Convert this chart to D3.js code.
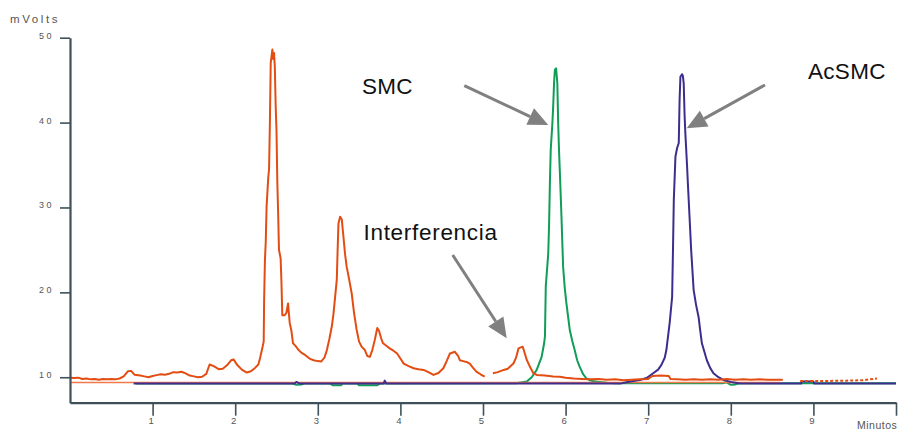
<!DOCTYPE html>
<html><head><meta charset="utf-8">
<script src="https://cdn.jsdelivr.net/npm/d3@7"></script>
<style>
html,body{margin:0;padding:0;background:#fff;}
svg{display:block;font-family:"Liberation Sans",Arial,sans-serif;}
</style></head>
<body>
<svg id="c" width="903" height="430"></svg>
<script>
// ---- data (minutes, mVolts) ----
const xTicks = [1,2,3,4,5,6,7,8,9,10];
const xTickLabels = ["1","2","3","4","5","6","7","8","9",""];
const yTicks = [10,20,30,40,50];
const yTickLabels = ["10","20","30","40","50"];

// Muestra con interferencia (orange)
const interfX = [0,0.05,0.1,0.15,0.2,0.25,0.3,0.35,0.4,0.45,0.5,0.55,0.6,0.65,0.7,0.74,0.78,0.85,0.9,0.95,1.0,1.05,1.1,1.15,1.2,1.25,1.3,1.35,1.4,1.45,1.5,1.55,1.6,1.65,1.69,1.74,1.8,1.85,1.9,1.95,1.98,2.02,2.08,2.14,2.19,2.24,2.28,2.3,2.33,2.345,2.35,2.36,2.37,2.38,2.4,2.41,2.42,2.43,2.45,2.46,2.47,2.48,2.49,2.5,2.51,2.52,2.53,2.55,2.56,2.57,2.6,2.62,2.64,2.65,2.66,2.68,2.7,2.73,2.76,2.8,2.85,2.9,2.95,3.0,3.04,3.08,3.11,3.14,3.17,3.19,3.21,3.23,3.24,3.25,3.27,3.29,3.31,3.33,3.35,3.38,3.41,3.44,3.47,3.5,3.53,3.57,3.6,3.63,3.66,3.69,3.72,3.74,3.77,3.79,3.83,3.87,3.92,3.96,4.0,4.04,4.1,4.16,4.22,4.28,4.34,4.4,4.46,4.52,4.56,4.6,4.66,4.7,4.72,4.76,4.8,4.84,4.88,4.92,4.97,5.02,5.07,5.12,5.18,5.25,5.3,5.37,5.4,5.43,5.48,5.5,5.53,5.57,5.61,5.65,5.75,5.85,5.93,6.0,6.1,6.2,6.3,6.4,6.5,6.6,6.7,6.8,6.9,7.0,7.05,7.15,7.25,7.27,7.35,7.45,7.55,7.65,7.75,7.85,7.95,8.05,8.15,8.25,8.35,8.45,8.55,8.63];
const interfY = [9.95,9.9,9.95,9.8,9.85,9.75,9.8,9.7,9.8,9.75,9.8,9.75,9.85,10.1,10.7,10.75,10.3,10.2,10.1,10.0,10.15,10.25,10.35,10.3,10.4,10.6,10.55,10.65,10.45,10.2,10.1,10.0,10.05,10.4,11.5,11.3,10.95,11.0,11.4,12.0,12.1,11.5,10.9,10.55,10.7,11.1,11.5,12.2,13.5,14.2,19.0,23.8,26.0,30.1,33.5,34.5,40.0,47.0,48.6,47.5,48.2,46.5,42.0,39.0,33.0,29.3,25.0,24.0,21.2,17.3,17.3,17.6,18.7,17.5,16.4,15.5,14.0,13.7,13.3,12.9,12.6,12.2,12.0,11.9,11.85,12.3,13.2,14.5,16.0,17.5,19.5,21.5,25.0,28.1,28.9,28.6,26.6,24.5,23.0,21.5,19.9,17.5,15.6,14.2,13.6,13.2,12.5,12.4,13.2,14.4,15.8,15.5,14.5,14.0,13.7,13.4,13.1,12.8,12.2,11.6,11.3,11.06,10.95,10.86,10.6,10.27,10.5,11.06,11.9,12.8,13.0,12.5,12.0,11.9,11.8,11.6,11.1,10.66,10.35,10.07,null,10.47,10.6,10.86,11.0,11.65,12.3,13.4,13.6,13.0,12.04,11.2,10.47,10.27,10.2,10.1,10.07,9.95,9.85,9.8,9.75,9.8,9.7,9.75,9.65,9.7,9.75,9.8,10.15,10.2,10.15,9.8,9.75,9.7,9.75,9.7,9.75,9.7,9.8,9.7,9.75,9.7,9.75,9.7,9.7,9.7];
const interfTailX = [8.84,9.1,9.4,9.6,9.77];
const interfTailY = [9.55,9.55,9.6,9.65,9.85];

// SMC (green)
const smcX = [0.8,2.7,2.74,2.8,2.84,3.15,3.18,3.28,3.3,3.48,3.5,3.72,3.75,5.4,5.47,5.53,5.59,5.65,5.71,5.74,5.75,5.76,5.79,5.8,5.81,5.82,5.84,5.85,5.86,5.87,5.885,5.9,5.91,5.92,5.935,5.95,5.97,5.99,6.01,6.05,6.08,6.11,6.14,6.17,6.21,6.25,6.3,6.38,6.5,6.6,7.9,7.95,8.0,8.05,8.1,10.0];
const smcY = [9.25,9.25,9.1,9.15,9.25,9.25,9.05,9.05,9.25,9.25,9.05,9.05,9.25,9.3,9.4,9.5,10.0,10.86,12.4,14.0,14.8,20.7,24.6,28.0,32.9,36.8,39.9,42.0,44.6,46.2,46.4,44.6,40.0,36.8,33.0,28.9,23.0,20.5,18.7,15.6,14.3,13.2,12.0,11.25,10.4,9.88,9.6,9.48,9.35,9.3,9.3,9.4,9.1,9.15,9.3,9.3];

// AcSMC (purple)
const acsmcX = [0.77,2.72,2.74,2.78,3.8,3.81,3.83,6.66,6.75,6.9,6.98,7.06,7.12,7.16,7.2,7.22,7.26,7.29,7.3,7.31,7.33,7.35,7.37,7.38,7.39,7.41,7.42,7.43,7.44,7.45,7.47,7.48,7.5,7.52,7.55,7.58,7.61,7.63,7.65,7.68,7.71,7.75,7.79,7.85,7.91,8.0,8.11,8.85,8.86,9.0,9.01,10.0];
const acsmcY = [9.25,9.25,9.45,9.25,9.25,9.6,9.25,9.25,9.45,9.68,9.9,10.47,10.9,11.45,12.3,13.2,16.4,19.5,25.0,30.9,36.0,37.0,37.6,42.7,45.4,45.7,45.5,44.6,41.0,38.7,35.0,32.9,29.0,25.0,20.3,18.5,17.1,15.5,14.0,13.0,12.0,11.1,10.47,10.0,9.68,9.45,9.25,9.25,9.5,9.5,9.25,9.25];

// Blanco (light orange baseline)
const blankX = [0,0.77,3.0,6.0,8.6];
const blankY = [9.38,9.38,9.38,9.38,9.38];

// ---- layout ----
const svg = d3.select("#c");
const x = d3.scaleLinear().domain([0,10]).range([70,896]);
const y = d3.scaleLinear().domain([7,50]).range([402.7,37.7]);
const axisColor = "#3e515a";

const zip = (xs, ys) => xs.map((v,i)=>({x:v,y:ys[i]}));
const line = d3.line().defined(d=>d.y!==null).x(d=>x(d.x)).y(d=>y(d.y));

function drawSeries(data, color, width, dash){
  svg.append("path").datum(data).attr("fill","none").attr("stroke",color)
    .attr("stroke-width",width).attr("stroke-linejoin","round")
    .attr("stroke-dasharray",dash||null).attr("d",line);
}
drawSeries(zip(smcX,smcY), "#0f9d58", 2);
drawSeries(zip(blankX,blankY), "#f07a4a", 1.4);
drawSeries(zip(acsmcX,acsmcY), "#3e2d8c", 2);
drawSeries(zip(interfX,interfY), "#e34d12", 2);
drawSeries(zip(interfTailX,interfTailY), "#e34d12", 2, "3,2");

// ---- axes ----
const yAxis = d3.axisLeft(y).tickValues(yTicks).tickFormat((d,i)=>yTickLabels[i]).tickSize(10).tickSizeOuter(0).tickPadding(6);
const gy = svg.append("g").attr("transform","translate(70,0)").call(yAxis);
gy.select(".domain").attr("stroke",axisColor).attr("stroke-width",2.2);
gy.selectAll(".tick line").attr("stroke",axisColor).attr("stroke-width",1.6);
gy.selectAll(".tick text").attr("fill","#555").attr("font-size","9px").attr("letter-spacing","2.5px").attr("dy","0.05em")
  .attr("font-family","'Liberation Sans',Arial,sans-serif");

const xAxis = d3.axisBottom(x).tickValues(xTicks).tickFormat((d,i)=>xTickLabels[i]).tickSize(13).tickSizeOuter(0).tickPadding(2);
const gx = svg.append("g").attr("transform","translate(0,402.7)").call(xAxis);
gx.select(".domain").attr("stroke",axisColor).attr("stroke-width",2.2);
gx.selectAll(".tick line").attr("stroke",axisColor).attr("stroke-width",1.6);
gx.selectAll(".tick text").attr("fill","#555").attr("font-size","9.5px").attr("dx","-2")
  .attr("font-family","'Liberation Sans',Arial,sans-serif");

svg.append("text").attr("x",10).attr("y",23).attr("font-size","11.5px").attr("letter-spacing","2.6px")
  .attr("fill","#555").text("mVolts");
svg.append("text").attr("x",857).attr("y",429).attr("font-size","10.5px").attr("letter-spacing","0.5px")
  .attr("fill","#555").text("Minutos");

// ---- annotations ----
const labels = [
  {t:"SMC", px:362, py:94, ls:0.3},
  {t:"AcSMC", px:808, py:78.5, ls:0.3},
  {t:"Interferencia", px:363.5, py:239.5, ls:0.7}
];
labels.forEach(l=>{
  svg.append("text").attr("x",l.px).attr("y",l.py).attr("font-size","22.5px")
    .attr("letter-spacing",l.ls+"px").attr("fill","#111").text(l.t);
});
const arrows = [
  [464.3,85.7,548.3,125],
  [765,85,686.7,128.3],
  [452.7,255,506.7,338.3]
];
arrows.forEach(([x1,y1,x2,y2])=>{
  const ang = Math.atan2(y2-y1,x2-x1), L=20, W=9;
  const bx = x2 - L*Math.cos(ang), by = y2 - L*Math.sin(ang);
  svg.append("line").attr("x1",x1).attr("y1",y1).attr("x2",bx).attr("y2",by)
    .attr("stroke","#808080").attr("stroke-width",3);
  const p = [[x2,y2],[bx+W*Math.sin(ang),by-W*Math.cos(ang)],[bx-W*Math.sin(ang),by+W*Math.cos(ang)]];
  svg.append("path").attr("d","M"+p.map(q=>q.join(",")).join("L")+"Z").attr("fill","#808080");
});
</script>
</body></html>
